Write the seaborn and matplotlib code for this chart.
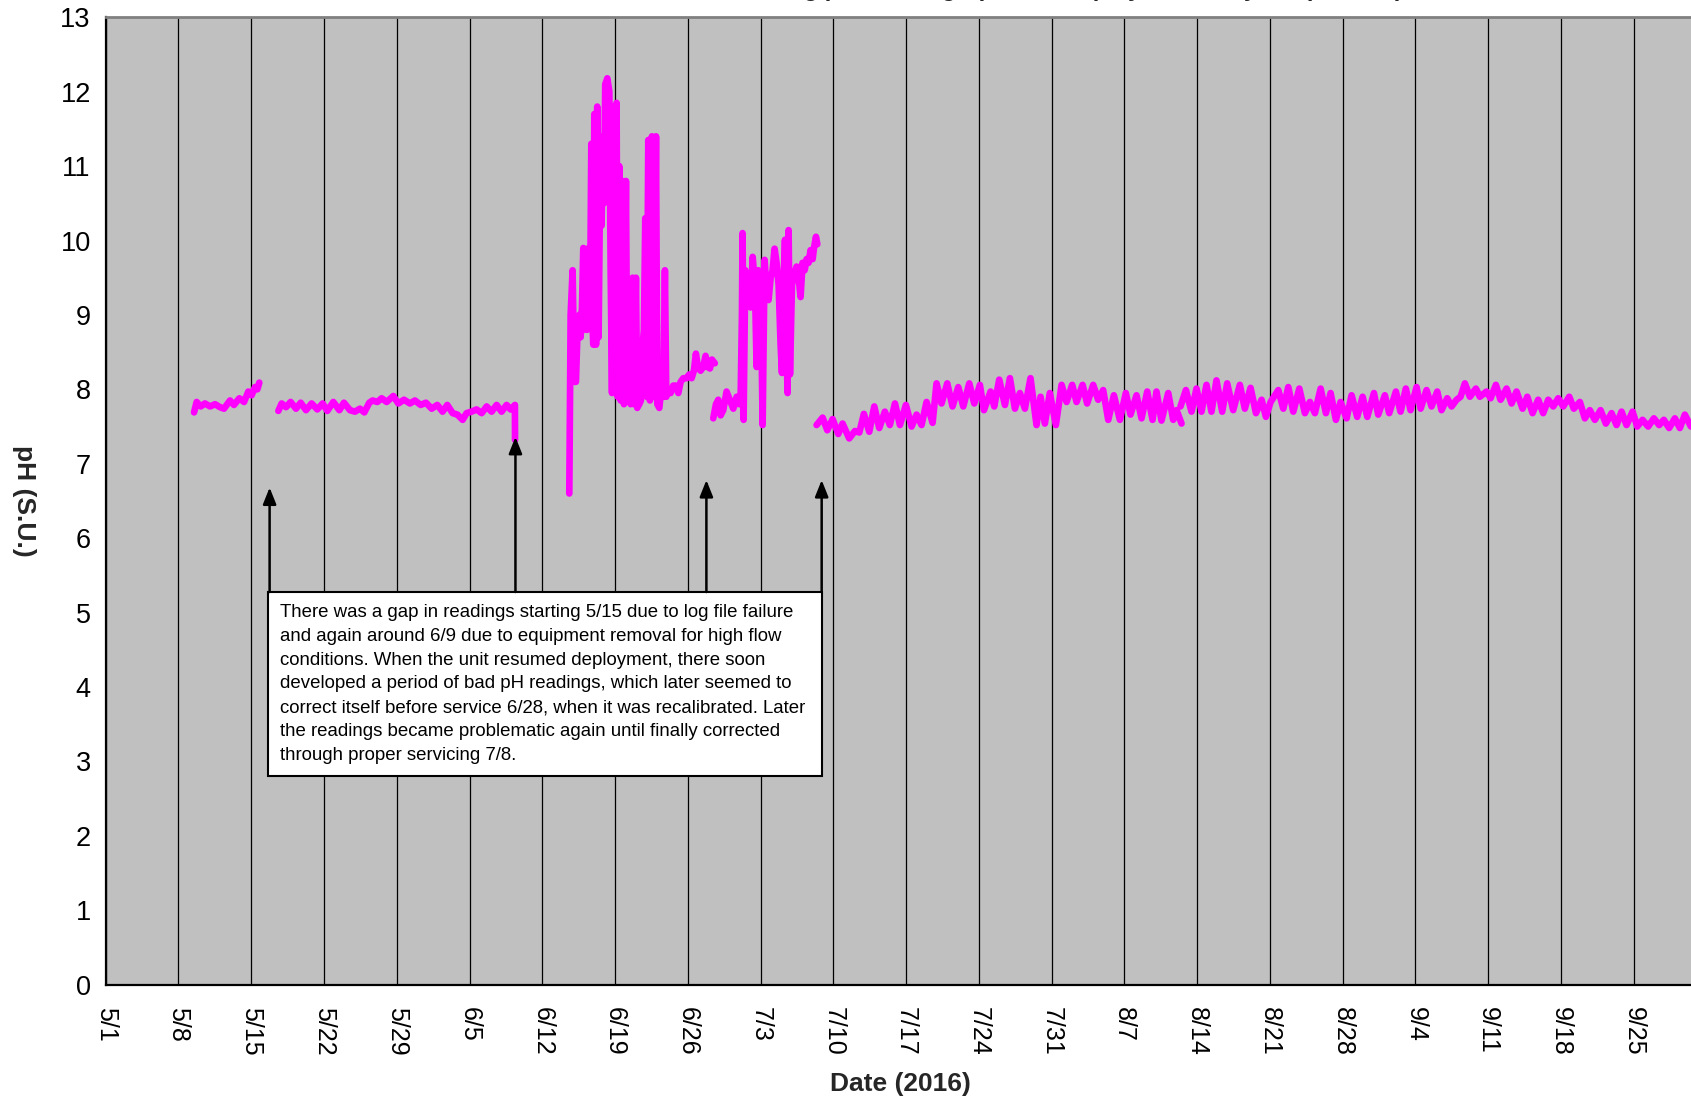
import numpy as np
import pandas as pd
import matplotlib
matplotlib.use("Agg")
import matplotlib.pyplot as plt
import seaborn as sns
from matplotlib.patches import Rectangle

# ---------------- data (days since 5/1/2016, pH in S.U.) ----------------
tick_days = [0, 7, 14, 21, 28, 35, 42, 49, 56, 63, 70, 77, 84, 91, 98, 105,
             112, 119, 126, 133, 140, 147]
tick_labels = ["5/1", "5/8", "5/15", "5/22", "5/29", "6/5", "6/12", "6/19",
               "6/26", "7/3", "7/10", "7/17", "7/24", "7/31", "8/7", "8/14",
               "8/21", "8/28", "9/4", "9/11", "9/18", "9/25"]

seg1_day = [8.50, 8.75, 9.14, 9.55, 10.04, 10.52, 11.00, 11.38, 11.96, 12.34,
            12.86, 13.31, 13.72, 14.04, 14.36, 14.59, 14.78]
seg1_ph = [7.69, 7.83, 7.77, 7.81, 7.77, 7.80, 7.76, 7.74, 7.85, 7.79,
           7.88, 7.83, 7.97, 7.92, 8.03, 8.00, 8.09]

seg2_day = [16.61, 16.93, 17.35, 17.79, 18.31, 18.76, 19.27, 19.81, 20.36, 20.87,
            21.32, 21.90, 22.48, 22.92, 23.50, 23.98, 24.46, 24.88, 25.36, 25.68,
            26.13, 26.55, 27.03, 27.67, 28.15, 28.70, 29.27, 29.75, 30.30, 30.81,
            31.36, 31.90, 32.41, 32.86, 33.38, 33.83, 34.34, 34.72, 35.20, 35.68,
            36.17, 36.65, 37.13, 37.61, 38.09, 38.57, 38.95, 39.37, 39.38]
seg2_ph = [7.71, 7.81, 7.76, 7.83, 7.74, 7.82, 7.72, 7.81, 7.73, 7.81,
           7.71, 7.83, 7.72, 7.82, 7.72, 7.70, 7.74, 7.69, 7.82, 7.85,
           7.83, 7.88, 7.83, 7.91, 7.81, 7.86, 7.81, 7.85, 7.79, 7.82,
           7.74, 7.79, 7.70, 7.79, 7.68, 7.66, 7.59, 7.68, 7.70, 7.73,
           7.68, 7.77, 7.70, 7.79, 7.70, 7.79, 7.73, 7.79, 7.32]

seg3_day = [44.60, 44.73, 44.92, 45.08, 45.24, 45.37, 45.56, 45.69, 45.82, 45.95,
            46.08, 46.20, 46.33, 46.46, 46.59, 46.72, 46.81, 46.91, 47.01, 47.17,
            47.29, 47.42, 47.55, 47.71, 47.81, 47.94, 48.06, 48.26, 48.45, 48.58,
            48.71, 48.83, 48.99, 49.15, 49.25, 49.41, 49.54, 49.73, 49.86, 50.05,
            50.18, 50.37, 50.50, 50.69, 50.82, 51.01, 51.14, 51.33, 51.49, 51.66,
            51.78, 51.91, 52.04, 52.20, 52.36, 52.55, 52.75, 52.94, 53.07, 53.26,
            53.45, 53.64, 53.80, 53.93, 54.12, 54.35, 54.60, 54.86, 55.09, 55.31,
            55.57, 55.89, 56.14, 56.37, 56.59, 56.78, 56.98, 57.23, 57.49, 57.71,
            57.91, 58.13, 58.32, 58.60]
seg3_ph = [6.60, 9.00, 9.60, 8.10, 8.10, 8.70, 9.00, 8.70, 9.10, 9.90,
           9.20, 8.80, 8.80, 9.90, 8.90, 11.30, 9.00, 8.60, 11.70, 8.60,
           11.80, 8.70, 10.60, 10.20, 11.40, 10.50, 12.10, 12.18, 12.00, 9.60,
           7.95, 11.80, 8.00, 11.85, 7.90, 11.00, 7.85, 10.80, 7.80, 10.80,
           7.90, 8.20, 7.80, 9.50, 7.80, 9.50, 7.75, 7.80, 7.85, 8.60,
           8.80, 10.30, 7.90, 11.35, 7.85, 11.40, 7.90, 11.40, 7.80, 7.75,
           8.00, 7.90, 9.60, 7.90, 8.00, 7.95, 8.05, 8.05, 7.95, 8.10,
           8.15, 8.15, 8.20, 8.15, 8.25, 8.48, 8.30, 8.25, 8.30, 8.45,
           8.30, 8.28, 8.40, 8.35]

seg4_day = [58.45, 58.71, 58.93, 59.16, 59.41, 59.73, 60.06, 60.38, 60.70, 60.95,
            61.08, 61.21, 61.27, 61.37, 61.53, 61.72, 61.92, 62.04, 62.24, 62.46,
            62.62, 62.78, 63.01, 63.20, 63.39, 63.58, 63.77, 63.97, 64.16, 64.35,
            64.54, 64.74, 64.93, 65.06, 65.19, 65.35, 65.51, 65.60, 65.70, 65.83,
            66.02, 66.21, 66.47, 66.66, 66.85, 67.04, 67.24, 67.43, 67.62, 67.81,
            68.01, 68.14, 68.33, 68.46]
seg4_ph = [7.61, 7.80, 7.86, 7.65, 7.72, 7.97, 7.85, 7.74, 7.90, 7.80,
           7.85, 9.00, 10.10, 7.59, 9.60, 9.30, 9.56, 9.10, 9.78, 9.40,
           8.30, 9.60, 9.50, 7.52, 9.74, 9.30, 9.20, 9.50, 9.60, 9.89,
           9.70, 9.40, 8.60, 8.22, 9.30, 10.01, 8.50, 7.95, 10.14, 8.20,
           9.40, 9.55, 9.65, 9.50, 9.24, 9.70, 9.60, 9.75, 9.70, 9.87,
           9.75, 9.90, 10.05, 9.95]

seg5_day = [68.39, 68.97, 69.42, 69.93, 70.48, 70.89, 71.53, 72.08, 72.50, 72.94,
            73.46, 73.94, 74.42, 74.96, 75.44, 75.93, 76.41, 76.98, 77.53, 78.01,
            78.49, 78.97, 79.55, 79.93, 80.41, 80.96, 81.47, 82.02, 82.50, 83.08,
            83.56, 84.10, 84.49, 85.13, 85.48, 85.96, 86.51, 86.99, 87.47, 87.95,
            88.43, 88.97, 89.55, 89.94, 90.35, 90.83, 91.41, 91.96, 92.44, 92.98,
            93.40, 93.98, 94.42, 95.00, 95.48, 95.96, 96.45, 96.99, 97.57, 98.14,
            98.59, 99.17, 99.65, 100.20, 100.71, 101.09, 101.57, 102.22, 102.70, 103.02,
            103.50]
seg5_ph = [7.52, 7.62, 7.45, 7.60, 7.40, 7.54, 7.34, 7.44, 7.42, 7.67,
           7.43, 7.77, 7.48, 7.70, 7.52, 7.81, 7.52, 7.79, 7.50, 7.66,
           7.52, 7.83, 7.55, 8.08, 7.81, 8.08, 7.77, 8.03, 7.77, 8.08,
           7.81, 8.06, 7.72, 7.97, 7.77, 8.13, 7.79, 8.15, 7.74, 7.95,
           7.74, 8.15, 7.52, 7.90, 7.54, 7.95, 7.52, 8.06, 7.83, 8.06,
           7.83, 8.06, 7.81, 8.06, 7.86, 7.99, 7.59, 7.92, 7.59, 7.95,
           7.66, 7.92, 7.61, 7.97, 7.59, 7.97, 7.58, 7.95, 7.59, 7.72,
           7.54]

seg6_day = [103.40, 103.92, 104.46, 104.94, 105.42, 105.90, 106.38, 106.86, 107.41, 107.89,
            108.47, 109.11, 109.59, 110.14, 110.66, 111.20, 111.62, 112.07, 112.81, 113.29,
            113.77, 114.25, 114.83, 115.37, 115.85, 116.33, 116.88, 117.39, 117.84, 118.35,
            118.80, 119.38, 119.86, 120.40, 120.92, 121.37, 122.01, 122.42, 123.06, 123.48,
            124.12, 124.57, 125.08, 125.53, 126.11, 126.50, 127.07, 127.55, 128.10, 128.51,
            129.06, 129.48, 129.96, 130.34, 130.76, 131.24, 131.82, 132.20, 132.84, 133.23,
            133.74, 134.19, 134.77, 135.25, 135.73, 136.31, 136.76, 137.27, 137.81, 138.29,
            138.78, 139.26, 139.74, 140.22, 140.80, 141.24, 141.82, 142.30, 142.78, 143.26,
            143.81, 144.32, 144.87, 145.35, 145.83, 146.31, 146.89, 147.34, 147.85, 148.39,
            148.94, 149.45, 149.90, 150.41, 150.96, 151.44, 151.92, 152.50, 153.00]
seg6_ph = [7.77, 7.99, 7.70, 8.01, 7.70, 8.06, 7.70, 8.12, 7.70, 8.08,
           7.72, 8.06, 7.74, 8.02, 7.68, 7.86, 7.63, 7.83, 7.99, 7.74,
           8.03, 7.70, 8.01, 7.68, 7.83, 7.68, 8.01, 7.68, 7.95, 7.59,
           7.83, 7.61, 7.92, 7.63, 7.90, 7.63, 7.95, 7.66, 7.92, 7.68,
           7.97, 7.70, 8.01, 7.72, 8.03, 7.74, 7.99, 7.77, 7.97, 7.72,
           7.88, 7.77, 7.86, 7.90, 8.08, 7.90, 8.01, 7.90, 7.97, 7.88,
           8.06, 7.86, 8.01, 7.81, 7.97, 7.74, 7.90, 7.68, 7.86, 7.68,
           7.86, 7.77, 7.88, 7.77, 7.90, 7.74, 7.83, 7.61, 7.72, 7.59,
           7.72, 7.54, 7.68, 7.52, 7.70, 7.52, 7.70, 7.50, 7.59, 7.50,
           7.61, 7.52, 7.59, 7.48, 7.61, 7.48, 7.66, 7.50, 7.62]

# annotation arrows: x position (day), tip (pH)
arrow_days = [15.77, 39.42, 57.79, 68.88]
arrow_tips = [6.68, 7.36, 6.78, 6.78]

note_text = ("There was a gap in readings starting 5/15 due to log file failure\n"
             "and again around 6/9 due to equipment removal for high flow\n"
             "conditions. When the unit resumed deployment, there soon\n"
             "developed a period of bad pH readings, which later seemed to\n"
             "correct itself before service 6/28, when it was recalibrated. Later\n"
             "the readings became problematic again until finally corrected\n"
             "through proper servicing 7/8.")

segments = [(seg1_day, seg1_ph), (seg2_day, seg2_ph), (seg3_day, seg3_ph),
            (seg4_day, seg4_ph), (seg5_day, seg5_ph), (seg6_day, seg6_ph)]
df = pd.concat([pd.DataFrame({"day": d, "ph": p, "seg": i})
                for i, (d, p) in enumerate(segments)], ignore_index=True)

# ---------------- plot ----------------
sns.set_style("white")
plt.rcParams["font.family"] = ["Liberation Sans", "DejaVu Sans"]

fig = plt.figure(figsize=(16.91, 11.0), dpi=100)
ax = fig.add_axes([0.0625, 0.1049, 0.9405, 0.8794])
ax.set_facecolor("#C0C0C0")
ax.set_axisbelow(True)

sns.lineplot(data=df, x="day", y="ph", units="seg", estimator=None,
             color="#FF00FF", linewidth=4.8, ax=ax, legend=False, zorder=3)
for ln in ax.lines:
    ln.set_solid_capstyle("round")
    ln.set_solid_joinstyle("round")

ax.set_xlim(0, 153)
ax.set_ylim(0, 13)
ax.set_xticks(tick_days)
ax.set_xticklabels(tick_labels, rotation=-90, ha="center", va="top")
ax.set_yticks(range(0, 14))
ax.grid(axis="x", color="black", linewidth=0.9)
ax.grid(axis="y", visible=False)

ax.tick_params(axis="y", direction="inout", length=11.5, width=1.2, pad=5,
               labelsize=19.5, colors="black")
ax.tick_params(axis="x", direction="out", length=8, width=1.0, pad=8,
               labelsize=18, colors="black")

for side in ["left", "bottom"]:
    ax.spines[side].set_color("black")
    ax.spines[side].set_linewidth(1.6)
ax.spines["top"].set_color("#808080")
ax.spines["top"].set_linewidth(2)
ax.spines["right"].set_visible(False)

ax.set_xlabel("Date (2016)", fontsize=19, fontweight="bold", va="center")
ax.xaxis.set_label_coords(0.5, -0.1028)
ax.set_ylabel("pH (S.U.)", fontsize=19, fontweight="bold", rotation=270,
              va="center", ha="center")
ax.yaxis.set_label_coords(-0.0514, 0.5)

# annotation box
box_x0, box_x1 = 15.66, 68.88
box_y0, box_y1 = 2.797, 5.276
ax.add_patch(Rectangle((box_x0, box_y0), box_x1 - box_x0, box_y1 - box_y0,
                       facecolor="white", edgecolor="black", linewidth=1.5,
                       zorder=4))
ax.text(16.80, 5.115, note_text, ha="left", va="top", fontsize=13.4,
        linespacing=1.52, color="black", zorder=5)

for xd, tip in zip(arrow_days, arrow_tips):
    ax.annotate("", xy=(xd, tip), xytext=(xd, box_y1),
                arrowprops=dict(arrowstyle="-|>,head_length=1.0,head_width=0.4",
                                color="black", lw=1.8, shrinkA=0, shrinkB=0),
                zorder=5)

# title (mostly outside the top edge, as in the cropped original)
fig.text(0.58, 1.0 + 4 / 1100, "Continuous Monitoring pH Readings (Sonde Deployment, May - Sept. 2016)",
         ha="center", va="baseline", fontsize=17, fontweight="bold")

fig.savefig("out.png", dpi=100)
